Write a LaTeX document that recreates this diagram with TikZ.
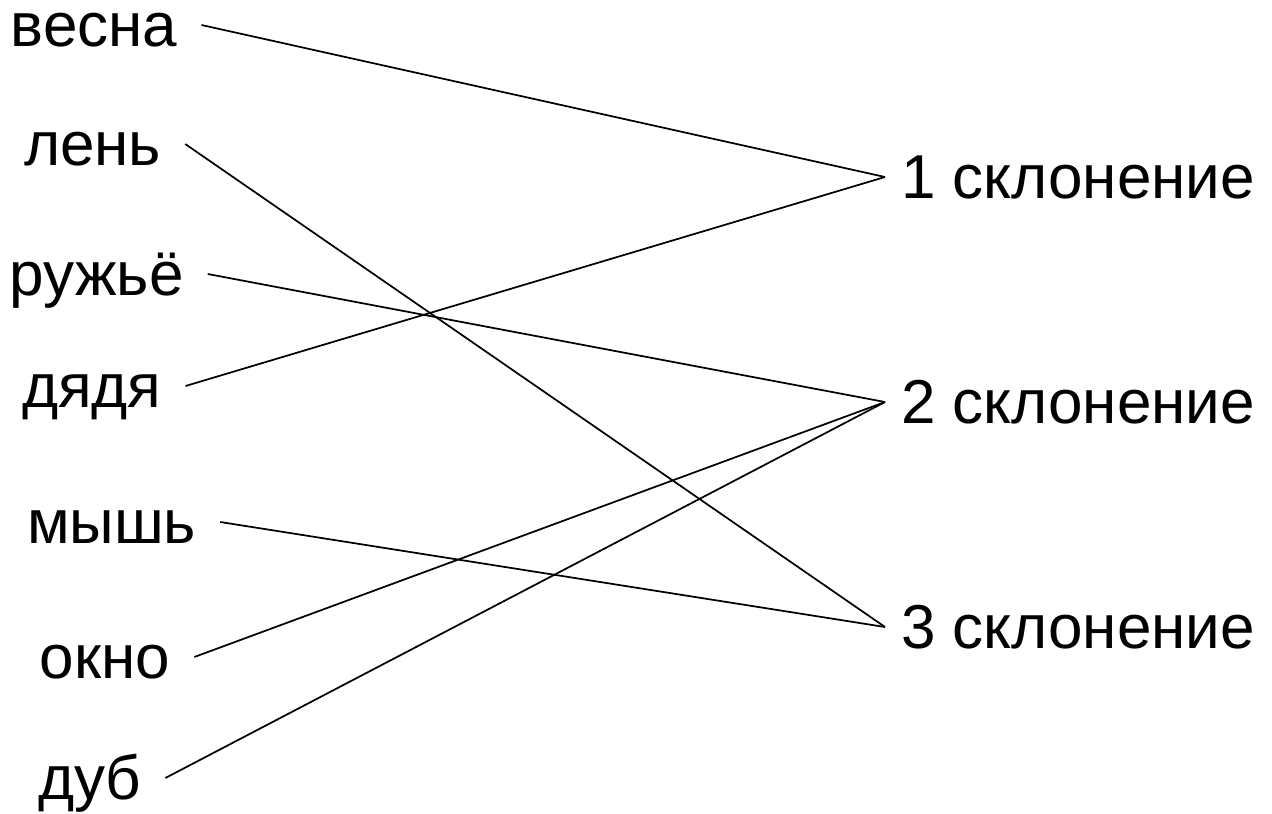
\documentclass[tikz,border=0pt]{standalone}
\usepackage{fontspec}
\setmainfont{Liberation Sans}

\begin{document}
\begin{tikzpicture}[x=0.75pt,y=-0.75pt,
  txt/.style={anchor=base west,inner sep=0pt,text height=31.5pt,text depth=0pt,font=\fontsize{46.5}{56}\selectfont},
  word/.style={txt,outer xsep=18pt,xshift=-18pt},
  decl/.style={txt,outer xsep=12pt,xshift=-12pt},
  link/.style={line width=1.3pt}]
\useasboundingbox (0,0) rectangle (1272,814);
% words on the left
\foreach \name/\txt/\px/\py in {w1/весна/11/46,w2/лень/24/165,w3/ружьё/10/295,w4/дядя/22/407,w5/мышь/27/543,w6/окно/40/678,w7/дуб/38/799}
  {\node [word] (\name) at (\px,\py) {\txt};}
% declensions on the right
\foreach \n/\py in {1/198,2/423,3/648}
  {\node [decl] (d\n) at (901,\py) {\n\ склонение};}
\foreach \a/\b in {w1/d1,w2/d3,w3/d2,w4/d1,w5/d3,w6/d2,w7/d2}
  {\draw [link] (\a.east) -- (\b.west);}
\end{tikzpicture}
\end{document}
